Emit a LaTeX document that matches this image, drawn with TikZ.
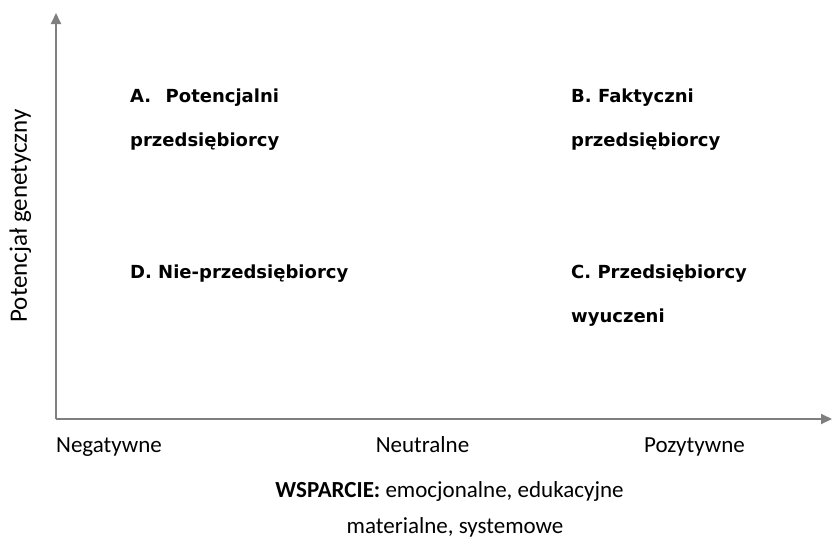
\documentclass[tikz,border=0pt]{standalone}
\usepackage{fontspec}
\setmainfont{Carlito}
\newfontfamily\quadfont{DejaVu Sans}
\usetikzlibrary{arrows.meta}
\definecolor{axisgray}{HTML}{7F7F7F}
\tikzset{
  axis/.style={draw=axisgray, line width=2pt, -{Triangle[length=11pt,width=10pt]}},
  quad/.style={anchor=base west, inner sep=0pt, font=\quadfont\bfseries\fontsize{18}{22}\selectfont},
  tick/.style={anchor=base, inner sep=0pt, font=\fontsize{23}{27}\selectfont},
  caption/.style={anchor=base, inner sep=0pt, font=\fontsize{23}{27}\selectfont}
}
\begin{document}
\begin{tikzpicture}[x=1pt,y=-1pt]
  \useasboundingbox (0,0) rectangle (833,539);
  % axes
  \coordinate (origin) at (56,419);
  \coordinate (ytip) at (56,13);
  \coordinate (xtip) at (832,419);
  \draw[axis] (origin) -- (ytip);
  \draw[axis] (origin) -- (xtip);
  % vertical axis title
  \node[anchor=base, inner sep=0pt, rotate=90, font=\fontsize{25}{29}\selectfont] (ylab) at (27,216) {Potencjał genetyczny};
  % quadrants
  \node[quad] (a1) at (130,102) {A.\hspace{0.8em}Potencjalni};
  \node[quad] (a2) at (130,146) {przedsiębiorcy};
  \node[quad] (b1) at (571,102) {B. Faktyczni};
  \node[quad] (b2) at (571,146) {przedsiębiorcy};
  \node[quad] (d1) at (130,278) {D. Nie-przedsiębiorcy};
  \node[quad] (c1) at (571,278) {C. Przedsiębiorcy};
  \node[quad] (c2) at (571,322) {wyuczeni};
  % support levels
  \node[tick] (neg) at (109,452) {Negatywne};
  \node[tick] (neu) at (422.5,452) {Neutralne};
  \node[tick] (poz) at (694.5,452) {Pozytywne};
  % axis caption
  \node[caption] (cap1) at (449.5,497) {\textbf{WSPARCIE:} emocjonalne, edukacyjne};
  \node[caption] (cap2) at (455,533) {materialne, systemowe};
\end{tikzpicture}
\end{document}
